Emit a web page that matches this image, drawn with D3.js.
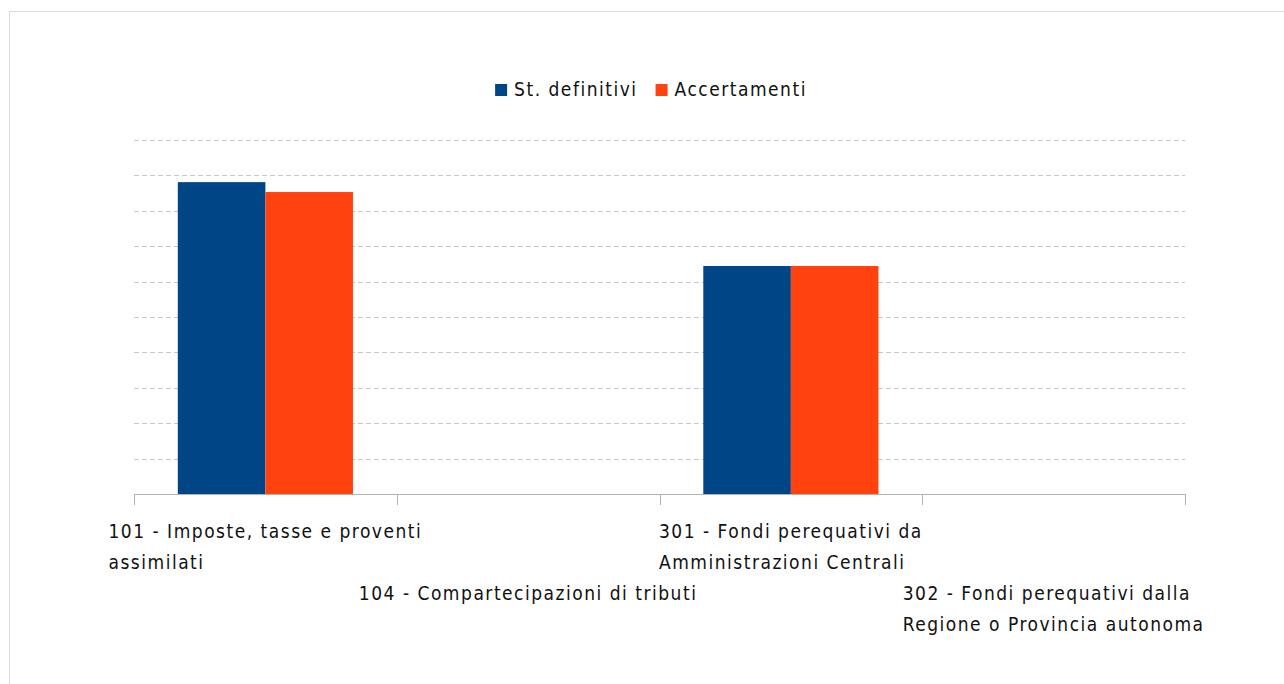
<!DOCTYPE html>
<html>
<head>
<meta charset="utf-8">
<script src="https://cdn.jsdelivr.net/npm/d3@7"></script>
<style>
	body{margin:0;background:#fff;}
	svg text{font-family:"DejaVu Sans Condensed","DejaVu Sans",sans-serif;fill:#111;letter-spacing:1.5px;}
</style>
</head>
<body>
<svg id="chart" width="1284" height="684"></svg>
<script>
// Data (y axis unlabelled, 10 gridline units).
const categories = ["101", "104", "301", "302"];
const tickLabels = [
	["101 - Imposte, tasse e proventi", "assimilati"],
	["104 - Compartecipazioni di tributi"],
	["301 - Fondi perequativi da", "Amministrazioni Centrali"],
	["302 - Fondi perequativi dalla", "Regione o Provincia autonoma"]
];
const seriesNames = ["St. definitivi", "Accertamenti"];
const stDefinitivi = [8.81, 0, 6.44, 0];
const accertamenti = [8.53, 0, 6.44, 0];
const colors = ["#004586", "#ff420e"];

const svg = d3.select("#chart");

// outer frame, only top/left edges fall inside the window
svg.append("rect")
	.attr("x", 9.5).attr("y", 11.5)
	.attr("width", 1290).attr("height", 700)
	.attr("fill", "none").attr("stroke", "#d9d9d9");

const m = {left:134, right:1185, top:140, bottom:494};

const x = d3.scaleBand().domain(categories).range([m.left, m.right]);
const xs = d3.scaleBand().domain(seriesNames).range([0, x.bandwidth()]).paddingOuter(0.5);
const y = d3.scaleLinear().domain([0, 10]).range([m.bottom, m.top]);

// gridlines
svg.append("g")
	.selectAll("line")
	.data(y.ticks(10).filter(d => d > 0))
	.join("line")
	.attr("x1", m.left).attr("x2", m.right)
	.attr("y1", d => Math.round(y(d)) + 0.5).attr("y2", d => Math.round(y(d)) + 0.5)
	.attr("stroke", "#c8c8c8")
	.attr("stroke-dasharray", "5,3");

// bars
const series = [stDefinitivi, accertamenti];
svg.append("g")
	.selectAll("g")
	.data(series)
	.join("g")
	.attr("fill", (d, i) => colors[i])
	.selectAll("rect")
	.data((d, i) => d.map((v, j) => ({cat: categories[j], s: seriesNames[i], v})))
	.join("rect")
	.attr("x", d => x(d.cat) + xs(d.s))
	.attr("width", xs.bandwidth())
	.attr("y", d => y(d.v))
	.attr("height", d => y(0) - y(d.v));

// x axis: baseline plus category boundary ticks
const axis = svg.append("g").attr("stroke", "#b3b3b3").attr("fill", "none");
axis.append("line")
	.attr("x1", m.left).attr("x2", m.right)
	.attr("y1", m.bottom + 0.5).attr("y2", m.bottom + 0.5);
const bounds = categories.map(c => x(c)).concat([x.range()[1]]);
axis.selectAll("line.tick")
	.data(bounds)
	.join("line")
	.attr("class", "tick")
	.attr("x1", d => Math.round(d) + 0.5).attr("x2", d => Math.round(d) + 0.5)
	.attr("y1", m.bottom).attr("y2", m.bottom + 11);

// category labels, staggered in two rows, lines left aligned inside a centred block
const lineH = 31;
const labels = svg.append("g").attr("font-size", 19);
tickLabels.forEach((lines, i) => {
	const g = labels.append("g");
	const t = g.append("text");
	lines.forEach((s, k) => {
		t.append("tspan").attr("x", 0).attr("dy", k ? lineH : 0).text(s);
	});
	const w = d3.max(t.selectAll("tspan").nodes(), n => n.getComputedTextLength());
	const cx = x(categories[i]) + x.bandwidth() / 2;
	const by = 538 + (i % 2) * 2 * lineH;
	g.attr("transform", `translate(${cx - w / 2},${by})`);
});

// legend
const legend = svg.append("g").attr("font-size", 19);
let lx = 0;
seriesNames.forEach((s, i) => {
	const g = legend.append("g").attr("transform", `translate(${lx},0)`);
	g.append("rect").attr("x", 0).attr("y", -12).attr("width", 12).attr("height", 12).attr("fill", colors[i]);
	const t = g.append("text").attr("x", 19).attr("y", 0).text(s);
	lx += 19 + t.node().getComputedTextLength() + 18;
});
const lw = lx - 18;
legend.attr("transform", `translate(${651 - lw / 2},96)`);
</script>
</body>
</html>
